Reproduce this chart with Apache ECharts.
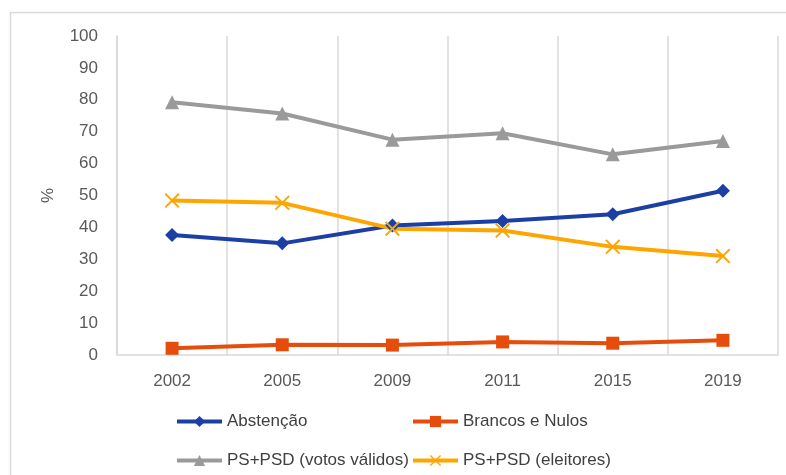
<!DOCTYPE html>
<html>
<head>
<meta charset="utf-8">
<script src="https://cdn.jsdelivr.net/npm/echarts@6/dist/echarts.min.js"></script>
<style>
  html, body { margin: 0; padding: 0; background: #fff; }
  #chart { width: 786px; height: 475px; }
</style>
</head>
<body>
<div id="chart"></div>
<script>
// dados
const anos = ['2002', '2005', '2009', '2011', '2015', '2019']
const abstencao = [37.6, 35.0, 40.6, 42.0, 44.1, 51.5]
const brancosNulos = [2.1, 3.2, 3.1, 4.1, 3.7, 4.6]
const psPsdValidos = [79.2, 75.7, 67.5, 69.5, 62.9, 67.1]
const psPsdEleitores = [48.4, 47.7, 39.6, 39.0, 33.9, 31.0]

// símbolo em X
const crossPath = 'path://M0,0.9 L0.9,0 L5,4.1 L9.1,0 L10,0.9 L5.9,5 L10,9.1 L9.1,10 L5,5.9 L0.9,10 L0,9.1 L4.1,5 Z'

const labelFont = { fontFamily: 'Liberation Sans', fontSize: 17, color: '#595959' }
const legendText = { fontFamily: 'Liberation Sans', fontSize: 17, color: '#404040' }

const mkLegend = (name, left, top) => ({
  data: [name],
  left: left,
  top: top,
  padding: 0,
  itemWidth: 45,
  itemHeight: 14,
  itemGap: 0,
  lineStyle: { width: 4 },
  textStyle: legendText
})

const chart = echarts.init(document.getElementById('chart'))
chart.setOption({
  animation: false,
  graphic: [{
    type: 'rect',
    shape: { x: 10.5, y: 12.5, width: 800, height: 500 },
    style: { fill: 'none', stroke: '#d9d9d9', lineWidth: 1.5 },
    silent: true
  }],
  grid: { left: 117, top: 36, right: 8, bottom: 120 },
  legend: [
    mkLegend('Abstenção', 175, 413),
    mkLegend('Brancos e Nulos', 411, 413),
    mkLegend('PS+PSD (votos válidos)', 175, 452),
    mkLegend('PS+PSD (eleitores)', 411, 452)
  ],
  xAxis: {
    type: 'category',
    data: anos,
    boundaryGap: true,
    axisLine: { lineStyle: { color: '#d9d9d9', width: 1.5 } },
    axisTick: { show: false },
    axisLabel: Object.assign({ margin: 18 }, labelFont),
    splitLine: { show: true, lineStyle: { color: '#d9d9d9', width: 1.5 } }
  },
  yAxis: {
    type: 'value',
    min: 0,
    max: 100,
    interval: 10,
    name: '%',
    nameLocation: 'middle',
    nameRotate: 90,
    nameGap: 60,
    nameTextStyle: labelFont,
    axisLine: { show: true, lineStyle: { color: '#d9d9d9', width: 1.5 } },
    axisTick: { show: false },
    axisLabel: Object.assign({ margin: 19 }, labelFont),
    splitLine: { show: false }
  },
  series: [
    {
      name: 'Abstenção',
      type: 'line',
      data: abstencao,
      symbol: 'diamond',
      symbolSize: 14,
      itemStyle: { color: '#1C3FA4' },
      lineStyle: { width: 4, color: '#1C3FA4' }
    },
    {
      name: 'Brancos e Nulos',
      type: 'line',
      data: brancosNulos,
      symbol: 'rect',
      symbolSize: 13,
      itemStyle: { color: '#E64D0C' },
      lineStyle: { width: 4, color: '#E64D0C' }
    },
    {
      name: 'PS+PSD (votos válidos)',
      type: 'line',
      data: psPsdValidos,
      symbol: 'triangle',
      symbolSize: 14,
      itemStyle: { color: '#9A9A9A' },
      lineStyle: { width: 4, color: '#9A9A9A' }
    },
    {
      name: 'PS+PSD (eleitores)',
      type: 'line',
      data: psPsdEleitores,
      symbol: crossPath,
      symbolSize: 15,
      itemStyle: { color: '#FFA500' },
      lineStyle: { width: 4, color: '#FFA500' }
    }
  ]
})
</script>
</body>
</html>
